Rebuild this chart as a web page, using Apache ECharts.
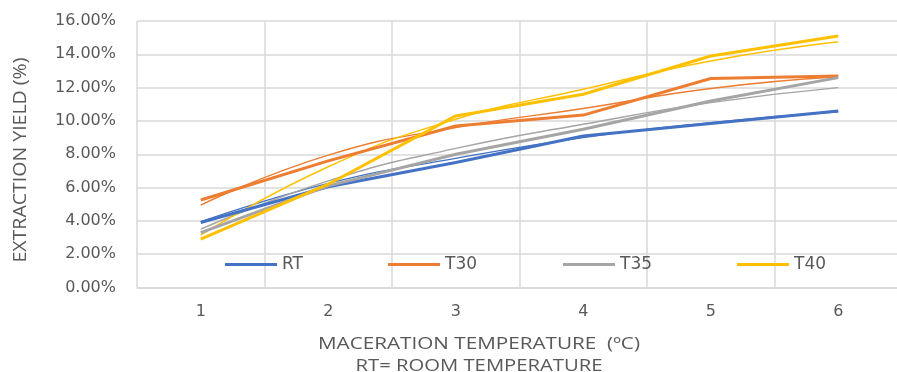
<!DOCTYPE html>
<html>
<head>
<meta charset="utf-8">
<script src="https://cdn.jsdelivr.net/npm/echarts@6/dist/echarts.min.js"></script>
<style>html,body{margin:0;padding:0;background:#fff;}#c{width:897px;height:372px;}</style>
</head>
<body>
<div id="c"></div>
<script>
const categories = ['1', '2', '3', '4', '5', '6'];
const yTicks = [0, 2, 4, 6, 8, 10, 12, 14, 16];

// measured series (%)
const RT  = [3.9, 6.05, 7.5, 9.1, 9.85, 10.6];
const T30 = [5.25, 7.6, 9.7, 10.35, 12.55, 12.7];
const T35 = [3.3, 6.1, 8.0, 9.5, 11.2, 12.6];
const T40 = [2.9, 6.2, 10.3, 11.6, 13.9, 15.1];

// thin trend lines (%)
const RT_trend  = [3.95, 6.25, 7.75, 9.0, 9.9, 10.55];
const T30_trend = [4.95, 7.95, 9.6, 10.75, 11.95, 12.65];
const T35_trend = [3.5, 6.4, 8.35, 9.8, 11.1, 12.0];
const T40_trend = [3.15, 7.25, 10.1, 11.9, 13.6, 14.75];

const names = ['RT', 'T30', 'T35', 'T40'];
const colors = ['#4472C4', '#ED7D31', '#A5A5A5', '#FFC000'];
const mains = [RT, T30, T35, T40];
const trends = [RT_trend, T30_trend, T35_trend, T40_trend];

const xTitle1 = 'MACERATION TEMPERATURE  (ºC)';
const xTitle2 = 'RT= ROOM TEMPERATURE';
const yTitle = 'EXTRACTION YIELD (%)';

const FONT = 'DejaVu Sans';
const TFONT = 'Open Sans';
const TXT = '#595959';
const GRID = '#d9d9d9';

// horizontal stretch of title texts to the widths seen in the picture
const mctx = document.createElement('canvas').getContext('2d');
function stretch(text, size, family, target) {
  mctx.font = size + 'px "' + family + '"';
  return target / mctx.measureText(text).width;
}

const series = [];
names.forEach((n, i) => {
  series.push({
    name: n + ' trend', type: 'line', data: trends[i], smooth: true,
    showSymbol: false, silent: true,
    lineStyle: { color: colors[i], width: 1.4 }, z: 2
  });
});
names.forEach((n, i) => {
  series.push({
    name: n, type: 'line', data: mains[i], showSymbol: false,
    itemStyle: { color: colors[i] },
    lineStyle: { color: colors[i], width: 3 }, z: 3
  });
});

const legendLefts = [225, 388, 563, 737];
const legends = names.map((n, i) => ({
  data: [n], left: legendLefts[i], top: 256,
  icon: 'rect', itemWidth: 52, itemHeight: 3, itemGap: 0, padding: [0, 0, 0, 0],
  textStyle: { fontFamily: FONT, fontSize: 17, color: TXT, padding: [0, 0, 0, 0] }
}));

function titleText(text, x, y, target, rot, sy) {
  return {
    type: 'text', x: x, y: y, silent: true, rotation: rot || 0,
    scaleX: stretch(text, 17, TFONT, target), scaleY: sy || 1,
    style: { text: text, align: 'center', verticalAlign: 'middle',
      fontFamily: TFONT, fontSize: 17, fill: TXT }
  };
}

const chart = echarts.init(document.getElementById('c'), null, { renderer: 'canvas' });
chart.setOption({
  animation: false,
  backgroundColor: '#fff',
  grid: { left: 137, right: -5, top: 21, bottom: 84.5, containLabel: false, outerBoundsMode: 'none' },
  legend: legends,
  graphic: [
    titleText(xTitle1, 479, 344, 322),
    titleText(xTitle2, 479, 366, 247),
    titleText(yTitle, 21, 160, 205, Math.PI / 2, 1.1)
  ],
  xAxis: {
    type: 'category', data: categories, boundaryGap: true,
    axisLine: { show: true, lineStyle: { color: GRID, width: 1.5 } },
    axisTick: { show: false },
    axisLabel: { fontFamily: FONT, fontSize: 16, color: TXT, margin: 16 },
    splitLine: { show: true, lineStyle: { color: GRID, width: 1.5 } }
  },
  yAxis: {
    type: 'value', min: yTicks[0], max: yTicks[yTicks.length - 1], interval: 2,
    axisLine: { show: false }, axisTick: { show: false },
    axisLabel: { fontFamily: FONT, fontSize: 16, color: TXT, margin: 21,
      formatter: v => v.toFixed(2) + '%' },
    splitLine: { show: true, lineStyle: { color: GRID, width: 1.5 } }
  },
  series: series
});
</script>
</body>
</html>
